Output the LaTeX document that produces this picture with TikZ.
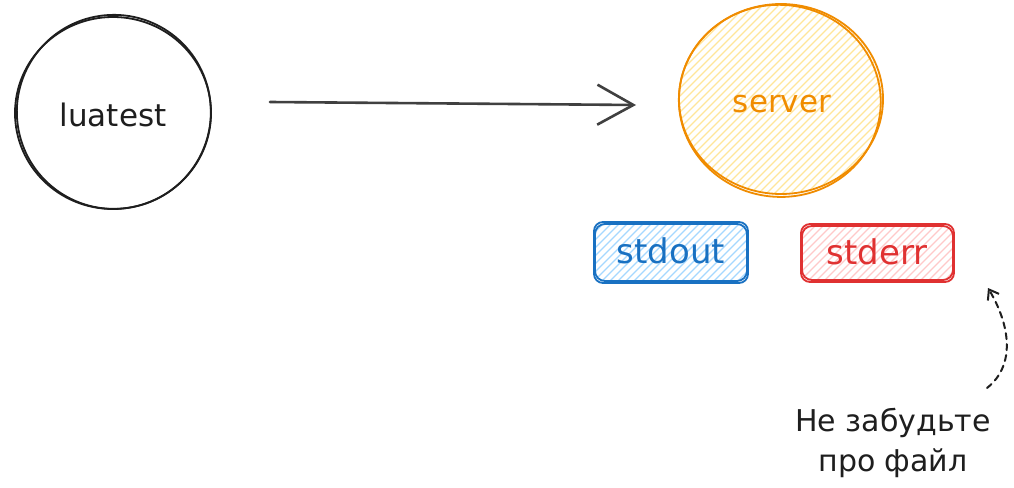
\documentclass[tikz,border=0pt]{standalone}
\usepackage{fontspec}
\setmainfont{DejaVu Sans}
\usetikzlibrary{arrows.meta}
\definecolor{inkblack}{HTML}{1E1E1E}
\definecolor{srvorange}{HTML}{F08C00}
\definecolor{srvfill}{HTML}{FFE69A}
\definecolor{outblue}{HTML}{1971C2}
\definecolor{outfill}{HTML}{A5D8FF}
\definecolor{errred}{HTML}{E03131}
\definecolor{errfill}{HTML}{FFC9C9}
\begin{document}
\begin{tikzpicture}[x=1pt,y=-1pt,
  txt/.style={font=\fontsize{31}{36}\selectfont, inner sep=0pt},
  boxtxt/.style={font=\fontsize{34}{40}\selectfont, inner sep=0pt},
  sketch/.style={line width=1.8pt, line cap=round, line join=round},
  hatch/.style={line width=1.3pt},
  note/.style={font=\fontsize{30}{40}\selectfont, align=center, inner sep=0pt, text=inkblack}]
\useasboundingbox[fill=white] (0,0) rectangle (1014,487);

% luatest process
\coordinate (lua) at (113,113);
\draw[sketch, inkblack] (lua) ellipse (98 and 96);
\draw[sketch, inkblack, rotate around={8:(lua)}] ([shift={(1,-1)}]lua) ellipse (97 and 97);
\node[txt, text=inkblack] (luat) at (113,115) {luatest};

% server process with hachure fill
\coordinate (srv) at (781,99);
\begin{scope}
  \clip (srv) ellipse (101 and 94);
  \begin{scope}[shift={(srv)}]
    \foreach \k in {-320,-312,...,320}
      \draw[hatch, srvfill] (\k-130,130) -- ++(260,-260);
  \end{scope}
\end{scope}
\draw[sketch, srvorange] (srv) ellipse (102 and 95);
\draw[sketch, srvorange, rotate around={-6:(srv)}] ([shift={(-1,2)}]srv) ellipse (101 and 96);
\node[txt, text=srvorange] (srvt) at (782,104) {server};

% request arrow
\coordinate (a0) at (270,102);
\coordinate (a1) at (636,105);
\draw[line width=2.6pt, inkblack!85, line cap=round,
  -{Straight Barb[length=36pt, width=40pt, line width=2.6pt]}] (a0) -- (a1);

% stdout stream
\coordinate (outc) at (671,251);
\begin{scope}
  \clip[rounded corners=9pt] (595,223) rectangle (747,282);
  \foreach \k in {-200,-192,...,200}
    \draw[hatch, outfill] (671+\k-40,292) -- ++(80,-80);
\end{scope}
\draw[sketch, outblue, rounded corners=9pt] (594,222) rectangle (748,283);
\draw[sketch, outblue, rounded corners=10pt] (595,224) rectangle (747,281);
\node[boxtxt, text=outblue] (outt) at (outc) {stdout};

% stderr stream
\coordinate (errc) at (877,252);
\begin{scope}
  \clip[rounded corners=9pt] (802,225) rectangle (953,281);
  \foreach \k in {-200,-192,...,200}
    \draw[hatch, errfill] (877+\k-40,292) -- ++(80,-80);
\end{scope}
\draw[sketch, errred, rounded corners=9pt] (801,224) rectangle (954,282);
\draw[sketch, errred, rounded corners=10pt] (802,226) rectangle (953,280);
\node[boxtxt, text=errred] (errt) at (errc) {stderr};

% reminder
\node[note] (memo) at (893,443) {Не забудьте\\про файл};
\coordinate (m0) at (987,388);
\coordinate (m1) at (988,288);
\draw[line width=2pt, inkblack, dash pattern=on 6pt off 5pt, line cap=round,
  -{Straight Barb[length=9pt, width=13pt, line width=2pt]}]
  (m0) .. controls (1016,365) and (1010,325) .. (m1);
\end{tikzpicture}
\end{document}
